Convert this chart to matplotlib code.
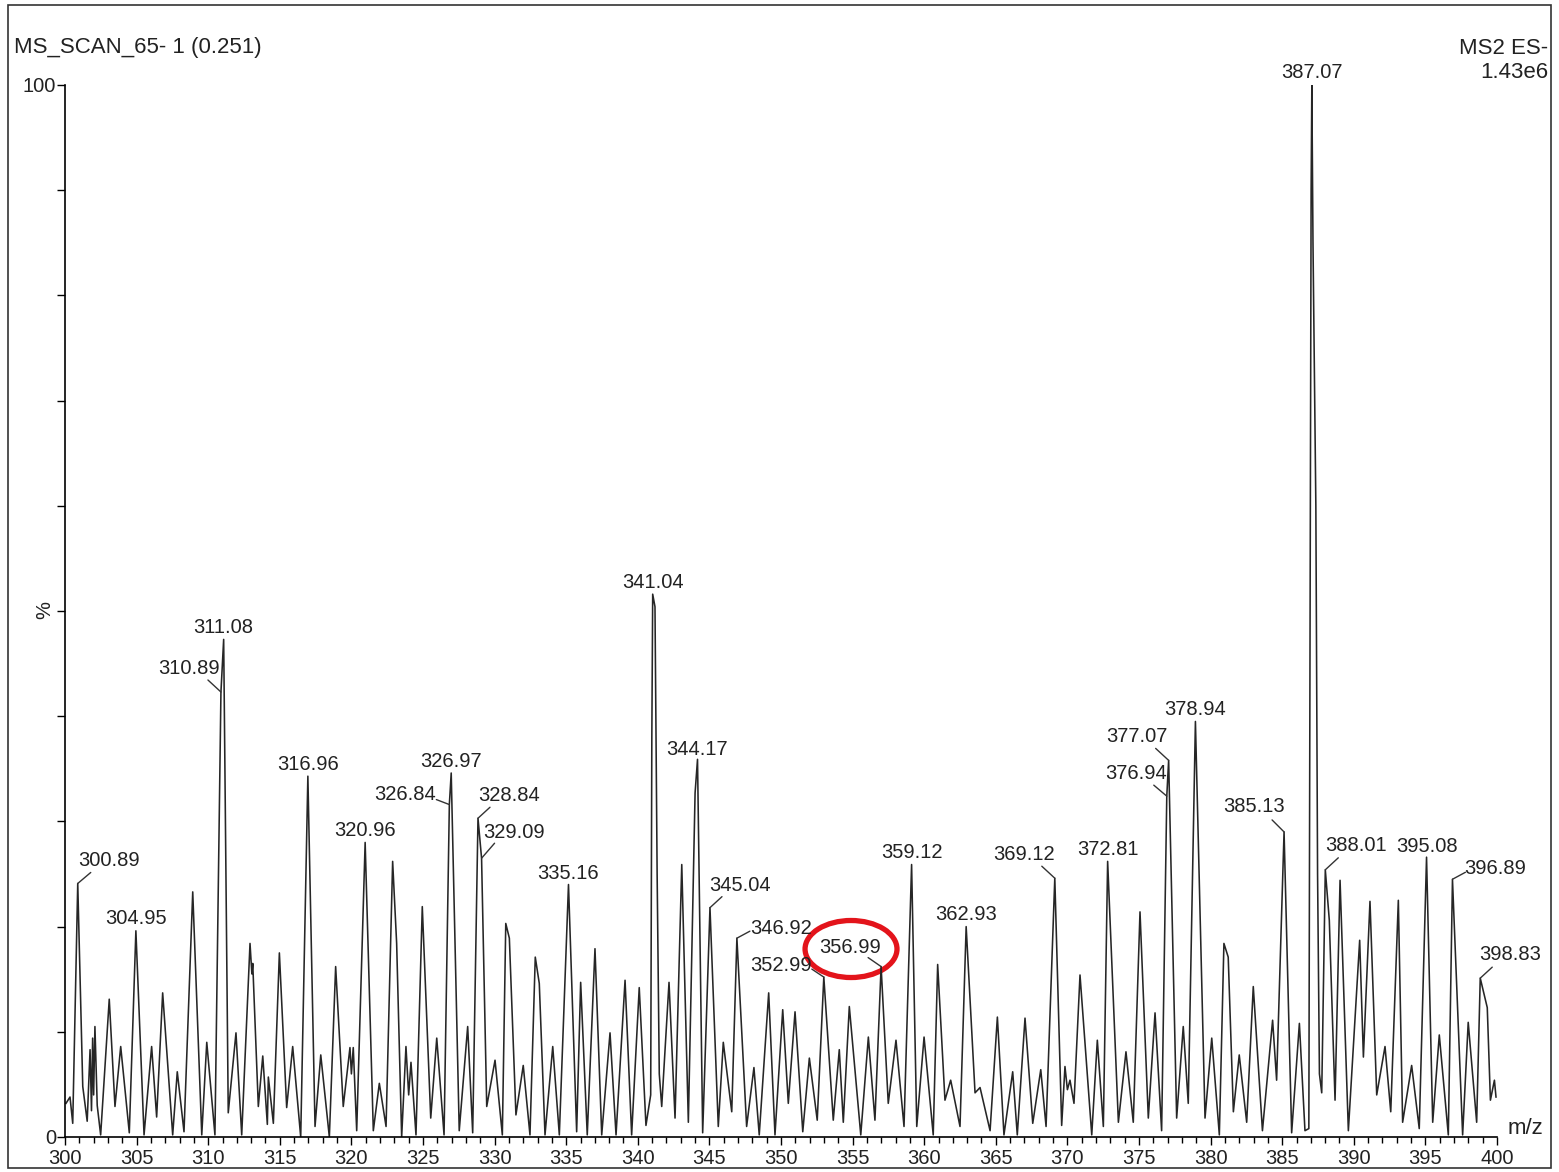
import numpy as np
import matplotlib
matplotlib.use("Agg")
import matplotlib.pyplot as plt
from matplotlib.patches import Ellipse, Rectangle

plt.rcParams['font.family'] = ['Liberation Sans', 'DejaVu Sans']

# spectrum trace: m/z and relative intensity (%)
mz = [300.07, 300.35, 300.54, 300.89, 301.24, 301.55, 301.75, 301.85, 301.93, 302.00,
      302.09, 302.25, 302.49, 303.09, 303.49, 303.89, 304.49, 304.95, 305.52, 306.05,
      306.40, 306.82, 307.52, 307.84, 308.31, 308.92, 309.55, 309.90, 310.47, 310.89,
      311.08, 311.40, 311.94, 312.34, 312.92, 313.05, 313.11, 313.50, 313.81, 314.13,
      314.20, 314.55, 314.97, 315.48, 315.90, 316.46, 316.96, 317.46, 317.86, 318.46,
      318.90, 319.43, 319.90, 320.00, 320.13, 320.37, 320.96, 321.53, 321.95, 322.42,
      322.88, 323.16, 323.51, 323.81, 324.00, 324.16, 324.51, 324.95, 325.54, 325.96,
      326.47, 326.84, 326.97, 327.53, 328.12, 328.47, 328.84, 329.09, 329.45, 330.03,
      330.54, 330.78, 331.03, 331.49, 332.00, 332.47, 332.84, 333.12, 333.52, 334.06,
      334.52, 335.16, 335.73, 336.01, 336.47, 337.01, 337.48, 338.06, 338.48, 339.11,
      339.57, 340.10, 340.57, 340.90, 340.98, 341.04, 341.20, 341.35, 341.50, 341.67,
      342.18, 342.60, 343.07, 343.53,
      344.00, 344.17, 344.53, 345.04, 345.62, 345.97, 346.56, 346.92, 347.60, 348.11,
      348.48, 349.14, 349.58, 350.12, 350.51, 350.98, 351.52, 351.98, 352.53, 352.99,
      353.65, 354.07, 354.35, 354.77, 355.57, 356.10, 356.56, 356.99, 357.49, 358.03,
      358.59, 359.12, 359.48, 359.99, 360.63, 360.94, 361.45, 361.85, 362.50, 362.93,
      363.55, 363.90, 364.60, 365.11, 365.57, 366.18, 366.50, 367.04, 367.58, 368.14,
      368.51, 369.12, 369.60, 369.83, 370.00, 370.18, 370.46, 370.88, 371.70, 372.09,
      372.51, 372.81, 373.56, 374.09, 374.60, 375.07, 375.65, 376.12, 376.58, 376.94,
      377.07, 377.63, 378.09, 378.44, 378.94, 379.61, 380.08, 380.61, 380.93, 381.23,
      381.59, 382.00, 382.52, 382.98, 383.62, 384.33, 384.61, 385.13, 385.66, 386.20,
      386.59, 386.86, 386.93, 387.02, 387.07, 387.15, 387.35, 387.47, 387.60, 387.76,
      388.01, 388.29, 388.69,
      389.04, 389.62, 390.41, 390.67, 391.13, 391.60, 392.18, 392.58, 393.11, 393.41,
      394.04, 394.57, 395.08, 395.51, 395.97, 396.60, 396.89, 397.60, 397.99, 398.58,
      398.83, 399.32, 399.54, 399.82, 399.93]
intensity = [3.2, 3.8, 1.3, 24.1, 4.8, 1.5, 8.3, 2.5, 9.4, 4.0,
             10.5, 3.0, 0.2, 13.1, 2.9, 8.6, 0.4, 19.6, 0.2, 8.6,
             1.9, 13.7, 0.2, 6.2, 0.5, 23.3, 0.2, 9.0, 0.2, 42.3,
             47.3, 2.3, 9.9, 0.2, 18.4, 15.5, 16.5, 2.9, 7.7, 1.2,
             5.7, 1.3, 17.5, 2.8, 8.6, 0.0, 34.3, 1.0, 7.8, 0.0,
             16.2, 2.9, 8.5, 6.0, 8.5, 0.6, 28.0, 0.6, 5.1, 1.0,
             26.2, 18.4, 0.0, 8.6, 4.0, 7.1, 0.2, 21.9, 1.8, 9.4,
             0.2, 31.6, 34.6, 0.6, 10.5, 0.4, 30.3, 26.5, 2.9, 7.3,
             0.2, 20.3, 18.9, 2.1, 6.8, 0.2, 17.1, 14.6, 0.2, 8.6,
             0.2, 24.0, 0.5, 14.7, 0.2, 17.9, 0.2, 9.9, 0.2, 14.9,
             0.2, 14.2, 1.1, 4.0, 38.0, 51.6, 50.4, 25.0, 6.0, 2.9,
             14.7, 1.8, 25.9, 1.4,
             32.7, 35.9, 0.4, 21.8, 1.0, 9.0, 2.4, 18.9, 1.0, 6.6,
             0.2, 13.7, 0.2, 12.1, 3.2, 11.9, 0.5, 7.5, 1.6, 15.2,
             1.6, 8.3, 1.4, 12.4, 0.2, 9.5, 1.6, 16.2, 3.2, 9.2,
             1.0, 25.9, 1.0, 9.5, 0.2, 16.4, 3.5, 5.4, 1.0, 20.0,
             4.2, 4.7, 0.6, 11.4, 0.2, 6.2, 0.2, 11.3, 1.3, 6.4,
             1.0, 24.6, 1.1, 6.7, 4.5, 5.4, 3.2, 15.4, 0.2, 9.2,
             1.0, 26.2, 1.4, 8.1, 1.4, 21.4, 1.8, 11.8, 0.6, 32.4,
             35.8, 1.8, 10.5, 3.2, 39.5, 1.8, 9.4, 0.2, 18.4, 17.1,
             2.4, 7.8, 1.4, 14.3, 0.6, 11.1, 5.4, 29.0, 0.4, 10.8,
             0.6, 0.8, 40.0, 90.0, 100.0, 85.0, 60.0, 25.0, 6.0, 4.2,
             25.4, 20.6, 3.5,
             24.4, 0.6, 18.7, 7.6, 22.4, 4.0, 8.6, 2.4, 22.5, 1.4,
             6.8, 0.8, 26.6, 1.4, 9.7, 0.2, 24.5, 0.2, 10.9, 1.4,
             15.1, 12.3, 3.5, 5.4, 3.8]

# labelled peaks
peak_labels = ["300.89", "304.95", "310.89", "311.08", "316.96", "320.96", "326.84",
               "326.97", "328.84", "329.09", "335.16", "341.04", "344.17", "345.04",
               "346.92", "352.99", "356.99", "359.12", "362.93", "369.12", "372.81",
               "376.94", "377.07", "378.94", "385.13", "387.07", "388.01", "395.08",
               "396.89", "398.83"]
peak_heights = [24.1, 19.6, 42.3, 47.3, 34.3, 28.0, 31.6,
                34.6, 30.3, 26.5, 24.0, 51.6, 35.9, 21.8,
                18.9, 15.2, 16.2, 25.9, 20.0, 24.6, 26.2,
                32.4, 35.8, 39.5, 29.0, 100.0, 25.4, 26.6,
                24.5, 15.1]

# label placement: text offset and leader end, in pixels from the apex
text_offsets = [(31, 23), (0, 12), (-32, 24), (0, 12), (0, 12), (0, 12), (-44, 10),
                (0, 12), (31, 23), (32, 26), (0, 11), (0, 12), (0, 10), (30, 22),
                (44, 10), (-43, 12), (-31, 19), (0, 12), (0, 12), (-31, 24), (0, 12),
                (-31, 23), (-32, 24), (0, 12), (-30, 25), (0, 12), (31, 24), (0, 11),
                (43, 11), (30, 24)]
leader_ends = [(13, 11), None, (-13, 12), None, None, None, (-13, 5),
               None, (12, 11), (13, 15), None, None, None, (12, 11),
               (13, 7), (-12, 8), (-13, 9), None, None, (-13, 12), None,
               (-13, 11), (-13, 12), None, (-12, 12), None, (13, 12), None,
               (13, 7), (12, 11)]

W, H = 1559, 1172
fig = plt.figure(figsize=(W / 100, H / 100), dpi=100)
ax = fig.add_axes([65 / W, 1 - 1137 / H, (1497 - 65) / W, (1137 - 85) / H])

ink = '#222222'
fs = 14.5
fs_head = 16

ax.plot(mz, intensity, color='#262626', lw=1.15)
ax.set_xlim(300, 400)
ax.set_ylim(0, 100)

for s in ['top', 'right']:
    ax.spines[s].set_visible(False)
for s in ['left', 'bottom']:
    ax.spines[s].set_linewidth(1.2)
    ax.spines[s].set_color('black')

ax.set_xticks(np.arange(300, 401, 5))
ax.set_xticks(np.arange(300, 401, 1), minor=True)
ax.set_yticks(np.arange(0, 101, 10))
ax.set_yticklabels(['0'] + [''] * 9 + ['100'])
ax.tick_params(axis='x', which='major', direction='out', length=5.5, width=1,
               labelsize=fs, pad=3, colors='black', labelcolor=ink)
ax.tick_params(axis='x', which='minor', direction='out', length=4, width=1)
ax.tick_params(axis='y', direction='out', length=5.5, width=1,
               labelsize=fs, pad=1, labelcolor=ink)

for lab, h, off, lead in zip(peak_labels, peak_heights, text_offsets, leader_ends):
    x = float(lab)
    ax.annotate(lab, xy=(x, h), xytext=off, textcoords='offset pixels',
                ha='center', va='center', fontsize=fs, color=ink)
    if lead is not None:
        ax.annotate('', xy=(x, h), xytext=lead, textcoords='offset pixels',
                    arrowprops=dict(arrowstyle='-', lw=1.0, color='#333333',
                                    shrinkA=0, shrinkB=0))

# red highlight round 356.99
ax.add_patch(Ellipse((354.89, 17.87), 6.42, 5.42, fill=False,
                     edgecolor='#e3141b', lw=3.8, clip_on=False))

fig.text(45 / W, 1 - 610 / H, '%', rotation=90, ha='center', va='center',
         fontsize=fs, color=ink)
fig.text(1525 / W, 1 - 1128 / H, 'm/z', ha='center', va='center',
         fontsize=fs_head, color=ink)
fig.text(14 / W, 1 - 48 / H, 'MS_SCAN_65- 1 (0.251)', ha='left', va='center',
         fontsize=fs_head, color=ink)
fig.text(1548 / W, 1 - 48 / H, 'MS2 ES-', ha='right', va='center',
         fontsize=fs_head, color=ink)
fig.text(1548 / W, 1 - 73 / H, '1.43e6', ha='right', va='center',
         fontsize=fs_head, color=ink)

fig.add_artist(Rectangle((8 / W, 4 / H), (1551 - 8) / W, (1167 - 4) / H,
                         transform=fig.transFigure, fill=False,
                         edgecolor='#333333', lw=1.2))

fig.savefig('out.png', dpi=100)
